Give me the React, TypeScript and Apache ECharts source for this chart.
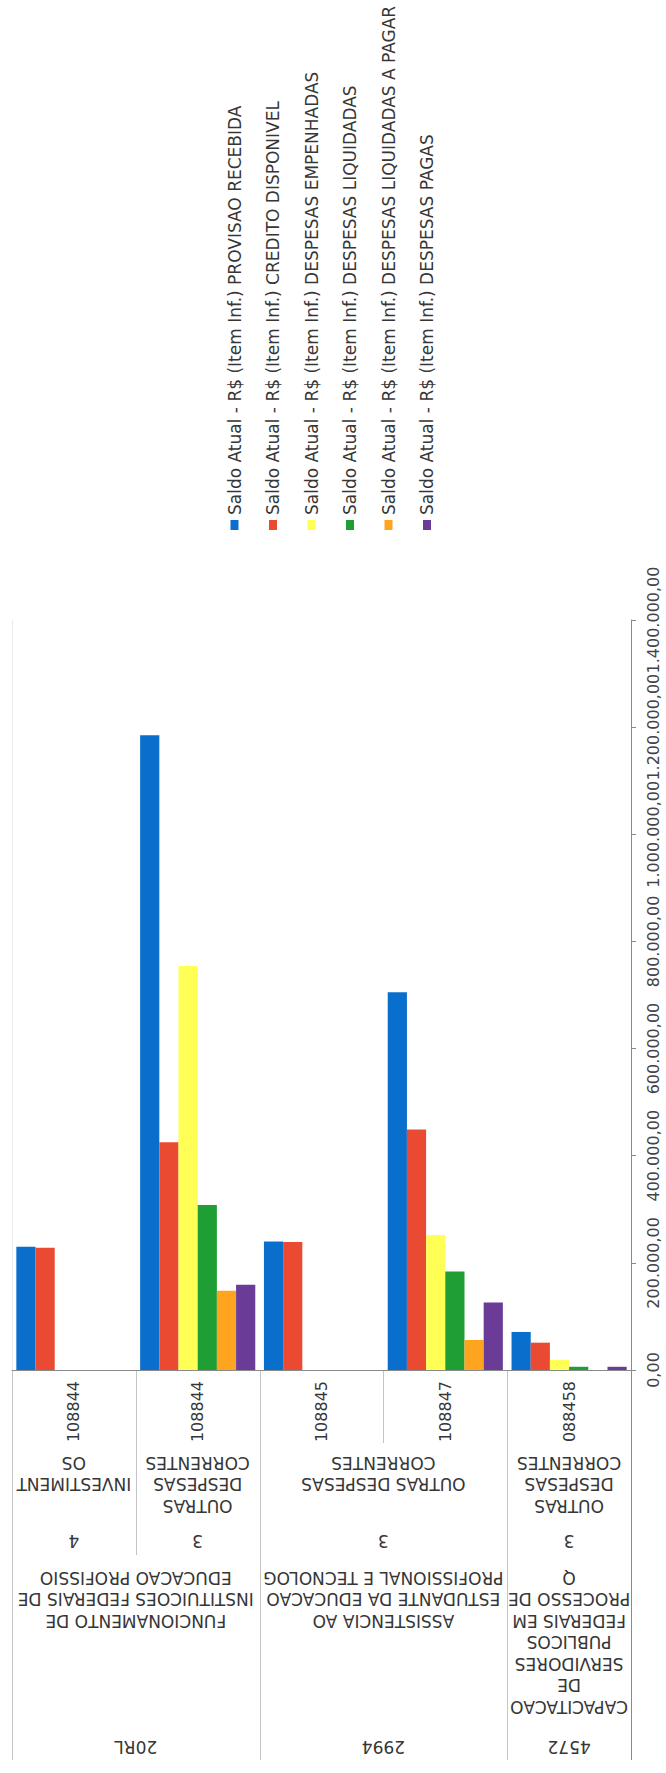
import React, { useEffect, useRef } from "react";
import * as echarts from "echarts";

// Innermost category level (UG code) – one per bar group
const categories = ["108844", "108844", "108845", "108847", "088458"];

const seriesNames = [
  "Saldo Atual - R$ (Item Inf.) PROVISAO RECEBIDA",
  "Saldo Atual - R$ (Item Inf.) CREDITO DISPONIVEL",
  "Saldo Atual - R$ (Item Inf.) DESPESAS EMPENHADAS",
  "Saldo Atual - R$ (Item Inf.) DESPESAS LIQUIDADAS",
  "Saldo Atual - R$ (Item Inf.) DESPESAS LIQUIDADAS A PAGAR",
  "Saldo Atual - R$ (Item Inf.) DESPESAS PAGAS",
];

const provisaoRecebida = [230000, 1185000, 240000, 705000, 71000];
const creditoDisponivel = [228000, 425000, 239000, 449000, 51000];
const despesasEmpenhadas = [0, 754000, 0, 252000, 19000];
const despesasLiquidadas = [0, 308000, 0, 184000, 6000];
const liquidadasAPagar = [0, 148000, 0, 56000, 0];
const despesasPagas = [0, 159000, 0, 126000, 6000];

const valueMin = 0;
const valueMax = 1400000;
const valueInterval = 200000;

// Outer category levels: [text, first category index, last category index]
const naturezaLevel: [string, number, number][] = [
  ["INVESTIMENT\nOS", 0, 0],
  ["OUTRAS\nDESPESAS\nCORRENTES", 1, 1],
  ["OUTRAS DESPESAS\nCORRENTES", 2, 3],
  ["OUTRAS\nDESPESAS\nCORRENTES", 4, 4],
];
const grupoLevel: [string, number, number][] = [
  ["4", 0, 0],
  ["3", 1, 1],
  ["3", 2, 3],
  ["3", 4, 4],
];
const acaoLevel: [string, number, number][] = [
  ["FUNCIONAMENTO DE\nINSTITUICOES FEDERAIS DE\nEDUCACAO PROFISSIO", 0, 1],
  ["ASSISTENCIA AO\nESTUDANTE DA EDUCACAO\nPROFISSIONAL E TECNOLOG", 2, 3],
  ["CAPACITACAO\nDE\nSERVIDORES\nPUBLICOS\nFEDERAIS EM\nPROCESSO DE\nQ", 4, 4],
];
const codigoLevel: [string, number, number][] = [
  ["20RL", 0, 1],
  ["2994", 2, 3],
  ["4572", 4, 4],
];

const seriesValues = [
  provisaoRecebida,
  creditoDisponivel,
  despesasEmpenhadas,
  despesasLiquidadas,
  liquidadasAPagar,
  despesasPagas,
];
const colors = ["#0A6FCC", "#EA4A32", "#FFFF55", "#1F9E33", "#FFA41E", "#6A3C98"];

const FONT = '"DejaVu Sans", Verdana, sans-serif';
const TEXT = "#363636";

function brl(v: number): string {
  const s = Math.round(v).toString();
  let out = "";
  for (let i = 0; i < s.length; i++) {
    const fromEnd = s.length - i;
    out += s[i];
    if (fromEnd > 1 && (fromEnd - 1) % 3 === 0) out += ".";
  }
  return out + ",00";
}

export default function App() {
  const ref = useRef<HTMLDivElement>(null);

  useEffect(() => {
    if (!ref.current) return;
    const chart = echarts.init(ref.current, null, { renderer: "svg" });

    chart.setOption({
      animation: false,
      grid: { left: 12, right: 35, top: 620, bottom: 403, outerBoundsMode: "none" },
      xAxis: {
        type: "category",
        data: categories,
        axisLine: { show: true, lineStyle: { color: "#8a8a8a", width: 1 } },
        axisTick: { show: false },
        axisLabel: {
          interval: 0,
          rotate: 90,
          margin: 11,
          color: TEXT,
          fontFamily: FONT,
          fontSize: 16,
        },
      },
      yAxis: {
        type: "value",
        position: "right",
        min: valueMin,
        max: valueMax,
        interval: valueInterval,
        axisLine: { show: true, lineStyle: { color: "#8a8a8a", width: 1 } },
        axisTick: { show: true, length: 5, lineStyle: { color: "#8a8a8a" } },
        splitLine: { show: false },
        axisLabel: {
          rotate: 90,
          margin: 14,
          color: "#444444",
          fontFamily: FONT,
          fontSize: 16,
          formatter: (v: number) => brl(v),
        },
      },
      series: seriesValues.map((vals, i) => ({
        name: seriesNames[i],
        type: "bar",
        data: vals,
        barGap: "0%",
        barCategoryGap: "7%",
        itemStyle: { color: colors[i] },
      })),
    });

    const cx = (i: number) => chart.convertToPixel({ xAxisIndex: 0 }, i) as number;
    const band = cx(1) - cx(0);
    const edge = (i: number) => cx(0) - band / 2 + band * i;
    const y0 = chart.convertToPixel({ yAxisIndex: 0 }, valueMin) as number;
    const yTop = chart.convertToPixel({ yAxisIndex: 0 }, valueMax) as number;
    const n = categories.length;

    const row1Bottom = y0 + 73;
    const row3Bottom = y0 + 185;
    const fullBottom = y0 + 390;

    const startsAt = (lvl: [string, number, number][], b: number) =>
      lvl.some((s) => s[1] === b);

    const els: any[] = [];
    // faint left border of plot area
    els.push({
      type: "line",
      shape: { x1: edge(0) + 0.5, y1: yTop, x2: edge(0) + 0.5, y2: y0 },
      style: { stroke: "#ebebeb", lineWidth: 1 },
      silent: true,
    });
    for (let b = 0; b <= n; b++) {
      let bottom = row1Bottom;
      if (b === 0 || b === n || startsAt(codigoLevel, b) || startsAt(acaoLevel, b)) bottom = fullBottom;
      else if (startsAt(grupoLevel, b) || startsAt(naturezaLevel, b)) bottom = row3Bottom;
      const x = Math.round(edge(b)) + 0.5;
      els.push({
        type: "line",
        shape: { x1: x, y1: y0, x2: x, y2: bottom },
        style: { stroke: b === n ? "#8a8a8a" : "#c4c4c4", lineWidth: 1 },
        silent: true,
      });
    }

    const addLevel = (lvl: [string, number, number][], y: number, va: string) => {
      lvl.forEach(([text, a, z]) => {
        els.push({
          type: "text",
          x: (edge(a) + edge(z + 1)) / 2,
          y,
          rotation: Math.PI,
          silent: true,
          style: {
            text,
            fill: TEXT,
            fontFamily: FONT,
            fontSize: 17,
            lineHeight: 21.5,
            align: "center",
            verticalAlign: va,
          },
        });
      });
    };
    addLevel(naturezaLevel, y0 + 82, "bottom");
    addLevel(grupoLevel, y0 + 171, "middle");
    addLevel(acaoLevel, y0 + 197, "bottom");
    addLevel(codigoLevel, y0 + 377, "middle");

    // Legend (rotated, reading bottom-to-top)
    seriesNames.forEach((name, i) => {
      const x = 234.5 + 38.5 * i;
      els.push({
        type: "rect",
        shape: { x: x - 4, y: 520, width: 8, height: 10 },
        style: { fill: colors[i] },
        silent: true,
      });
      els.push({
        type: "text",
        x,
        y: 515,
        rotation: Math.PI / 2,
        silent: true,
        style: {
          text: name,
          fill: TEXT,
          fontFamily: FONT,
          fontSize: 17,
          align: "left",
          verticalAlign: "middle",
        },
      });
    });

    chart.setOption({ graphic: els });

    return () => chart.dispose();
  }, []);

  return (
    <div
      ref={ref}
      style={{ position: "absolute", left: 0, top: 0, width: 666, height: 1773 }}
    />
  );
}
